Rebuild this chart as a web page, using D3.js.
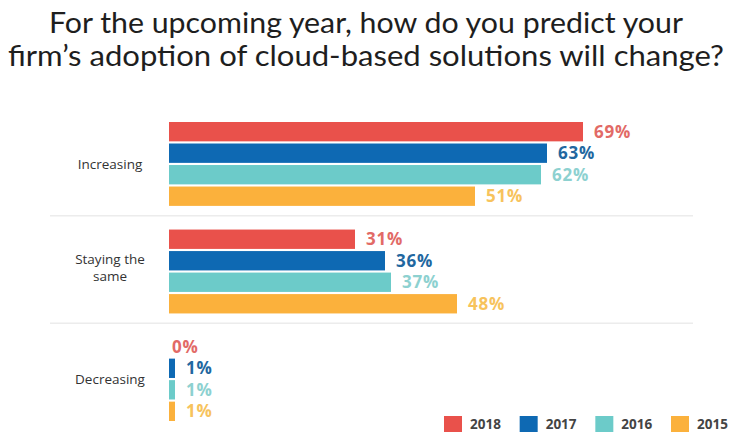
<!DOCTYPE html>
<html>
<head>
<meta charset="utf-8">
<script src="https://cdn.jsdelivr.net/npm/d3@7"></script>
<style>
  body { margin: 0; background: #fff; }
  svg { display: block; }
</style>
</head>
<body>
<div id="chart"></div>
<script>
// data
var titleLines = ["For the upcoming year, how do you predict your",
                  "firm\u2019s adoption of cloud-based solutions will change?"];
var categories = ["Increasing", "Staying the same", "Decreasing"];
var categoryLines = [["Increasing"], ["Staying the", "same"], ["Decreasing"]];
var years = ["2018", "2017", "2016", "2015"];
var values2018 = [69, 31, 0];
var values2017 = [63, 36, 1];
var values2016 = [62, 37, 1];
var values2015 = [51, 48, 1];

var barColors = ["#e9514b", "#0e69b3", "#6ccbc9", "#fbb13c"];
var labelColors = ["#e26a66", "#22679f", "#8dd1d0", "#f7c35c"];

var width = 729, height = 433;

var table = categories.map((c, i) => ({
  name: c,
  lines: categoryLines[i],
  values: [values2018[i], values2017[i], values2016[i], values2015[i]]
}));

var svg = d3.select("#chart")
  .append("svg")
  .attr("width", width)
  .attr("height", height);

// title
svg.append("g")
  .selectAll("text")
  .data(titleLines)
  .join("text")
    .attr("x", 366)
    .attr("y", (d, i) => 33 + i * 33)
    .attr("text-anchor", "middle")
    .attr("font-family", "Lato, 'Open Sans', sans-serif")
    .attr("font-size", 28)
    .attr("fill", "#1e1e1e")
    .attr("textLength", (d, i) => i == 0 ? 634 : 716)
    .attr("lengthAdjust", "spacingAndGlyphs")
    .text(d => d);

// scales
var x = d3.scaleLinear().domain([0, 100]).range([169, 769]);
var y0 = d3.scaleBand().domain(categories).range([122, 421]).paddingInner(0.22).paddingOuter(0);
var y1 = d3.scaleBand().domain(years).range([0, y0.bandwidth()]).paddingInner(0.1).paddingOuter(0);
var color = d3.scaleOrdinal().domain(years).range(barColors);
var labelColor = d3.scaleOrdinal().domain(years).range(labelColors);

// separators
var seps = categories.slice(1).map(c => y0(c) - (y0.step() - y0.bandwidth()) / 2 - 2);
svg.append("g")
  .selectAll("line")
  .data(seps)
  .join("line")
    .attr("x1", 50)
    .attr("x2", 693)
    .attr("y1", d => d)
    .attr("y2", d => d)
    .attr("stroke", "#ececec")
    .attr("stroke-width", 1.5);

var groups = svg.append("g")
  .selectAll("g")
  .data(table)
  .join("g")
    .attr("transform", d => `translate(0,${y0(d.name)})`);

groups.selectAll("rect")
  .data(d => d.values.map((v, i) => ({year: years[i], value: v})))
  .join("rect")
    .attr("x", x(0))
    .attr("y", d => y1(d.year))
    .attr("width", d => x(d.value) - x(0))
    .attr("height", y1.bandwidth())
    .attr("fill", d => color(d.year));

groups.selectAll("text.val")
  .data(d => d.values.map((v, i) => ({year: years[i], value: v})))
  .join("text")
    .attr("class", "val")
    .attr("x", d => x(d.value) + (d.value > 0 ? 11 : 3))
    .attr("y", d => y1(d.year) + y1.bandwidth() / 2)
    .attr("dy", "0.36em")
    .attr("font-family", "'Open Sans', sans-serif")
    .attr("font-weight", "bold")
    .attr("font-size", 17)
    .attr("letter-spacing", 0.8)
    .attr("fill", d => labelColor(d.year))
    .text(d => d.value + "%");

// category labels
groups.append("text")
  .attr("x", 110)
  .attr("y", d => y0.bandwidth() / 2 - (d.lines.length - 1) * 12)
  .attr("text-anchor", "middle")
  .attr("font-family", "'Open Sans', sans-serif")
  .attr("font-size", 13.5)
  .attr("fill", "#333")
  .selectAll("tspan")
  .data(d => d.lines)
  .join("tspan")
    .attr("x", 110)
    .attr("dy", (d, i) => i == 0 ? "0.35em" : 17)
    .text(d => d);

// legend
var lx = d3.scalePoint().domain(years).range([444, 671]);
var legend = svg.append("g")
  .selectAll("g")
  .data(years)
  .join("g")
    .attr("transform", d => `translate(${lx(d)},424)`);

legend.append("rect")
  .attr("x", 0)
  .attr("y", -8)
  .attr("width", 18)
  .attr("height", 16)
  .attr("fill", d => color(d));

legend.append("text")
  .attr("x", 26)
  .attr("dy", "0.36em")
  .attr("font-family", "'Open Sans', sans-serif")
  .attr("font-weight", "bold")
  .attr("font-size", 13.5)
  .attr("fill", "#444")
  .text(d => d);
</script>
</body>
</html>
